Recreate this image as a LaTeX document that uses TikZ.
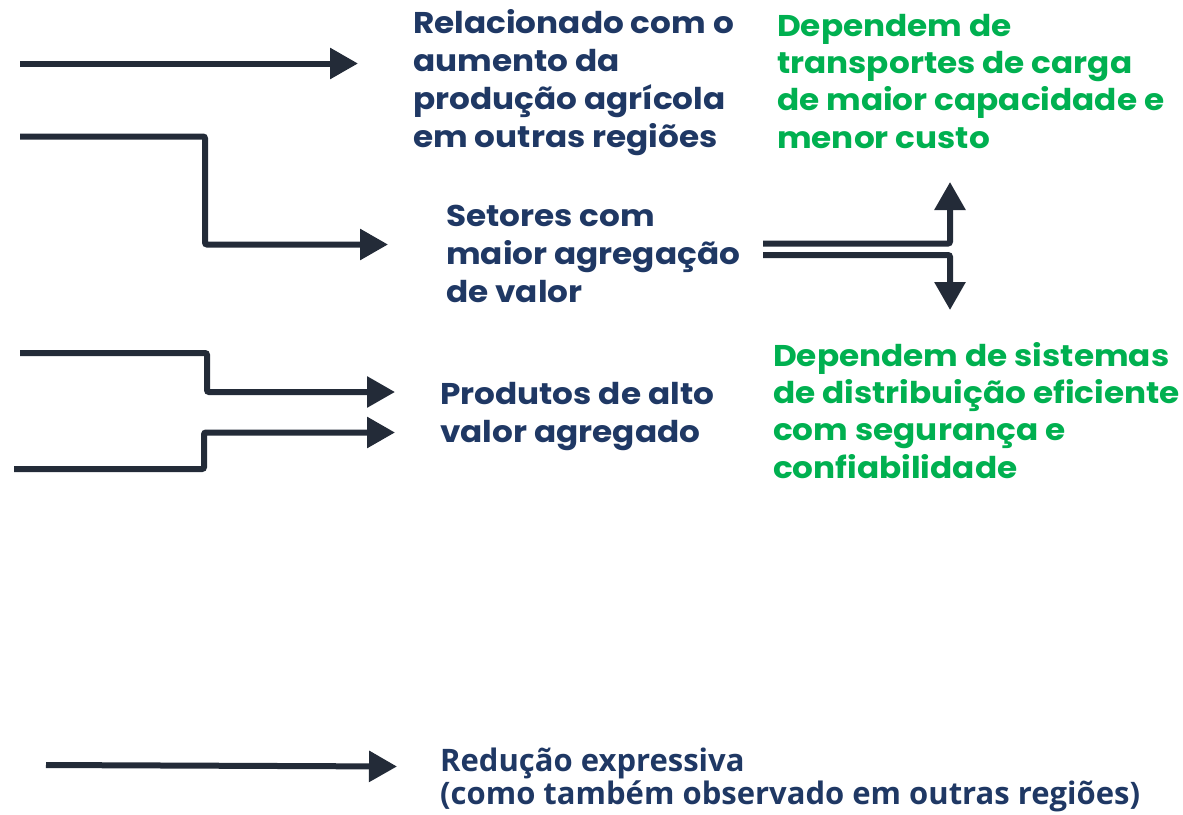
\documentclass[tikz,border=0pt]{standalone}
\usepackage{fontspec}
\setmainfont{Poppins}[FakeStretch=1.09]
\newfontfamily\osans{Open Sans}
\usetikzlibrary{arrows.meta}
\definecolor{navy}{HTML}{1F3864}
\definecolor{grn}{HTML}{00B050}
\definecolor{ink}{HTML}{232B38}
\tikzset{
  conn/.style={draw=ink, line width=6pt, rounded corners=2pt,
    -{Triangle[length=28pt,width=30pt]}},
  navytxt/.style={anchor=base west, inner sep=0pt, align=left, text=navy,
    font=\fontsize{30}{38}\selectfont\bfseries},
  greentxt/.style={anchor=base west, inner sep=0pt, align=left, text=grn,
    font=\fontsize{30}{37.3}\selectfont\bfseries},
  bottomtxt/.style={anchor=base west, inner sep=0pt, align=left, text=navy,
    font=\osans\fontsize{31}{29.5}\selectfont\bfseries},
}
\begin{document}
\begin{tikzpicture}[x=1pt,y=-1pt]
\useasboundingbox (0,0) rectangle (1183,814);
% texts (anchored at the baseline of the last line)
\node[navytxt] (t1) at (413,147) {Relacionado com o\\aumento da\\produção agrícola\\em outras regiões};
\node[greentxt] (g1) at (777,148) {Dependem de\\transportes de carga\\de maior capacidade e\\menor custo};
\node[navytxt] (t2) at (446,302) {Setores com\\maior agregação\\de valor};
\node[greentxt] (g2) at (773,478) {Dependem de sistemas\\de distribuição eficiente\\com segurança e\\confiabilidade};
\node[navytxt] (t3) at (440,442) {Produtos de alto\\valor agregado};
\node[bottomtxt] (t4) at (440,804) {Redução expressiva\\(como também observado em outras regiões)};
% coordinates
\coordinate (s1) at (20,63.5);
\coordinate (e1) at (358,63.5);
\coordinate (s2) at (20,136.5);
\coordinate (k2) at (205,136.5);
\coordinate (e2) at (388,244.5);
\coordinate (s3) at (20,353);
\coordinate (k3) at (207,353);
\coordinate (e3) at (395,392);
\coordinate (s4) at (14,469);
\coordinate (k4) at (204,469);
\coordinate (e4) at (395,432.5);
\coordinate (s5) at (46,765);
\coordinate (e5) at (397,766.5);
\coordinate (du) at (763,243.5);
\coordinate (dd) at (763,255);
\coordinate (up) at (950,182);
\coordinate (dn) at (950,310);
% connectors
\draw[conn] (s1) -- (e1);
\draw[conn] (s2) -- (k2) |- (e2);
\draw[conn] (s3) -- (k3) |- (e3);
\draw[conn] (s4) -- (k4) |- (e4);
\draw[conn] (s5) -- (e5);
\draw[conn] (du) -| (up);
\draw[conn] (dd) -| (dn);
\end{tikzpicture}
\end{document}
